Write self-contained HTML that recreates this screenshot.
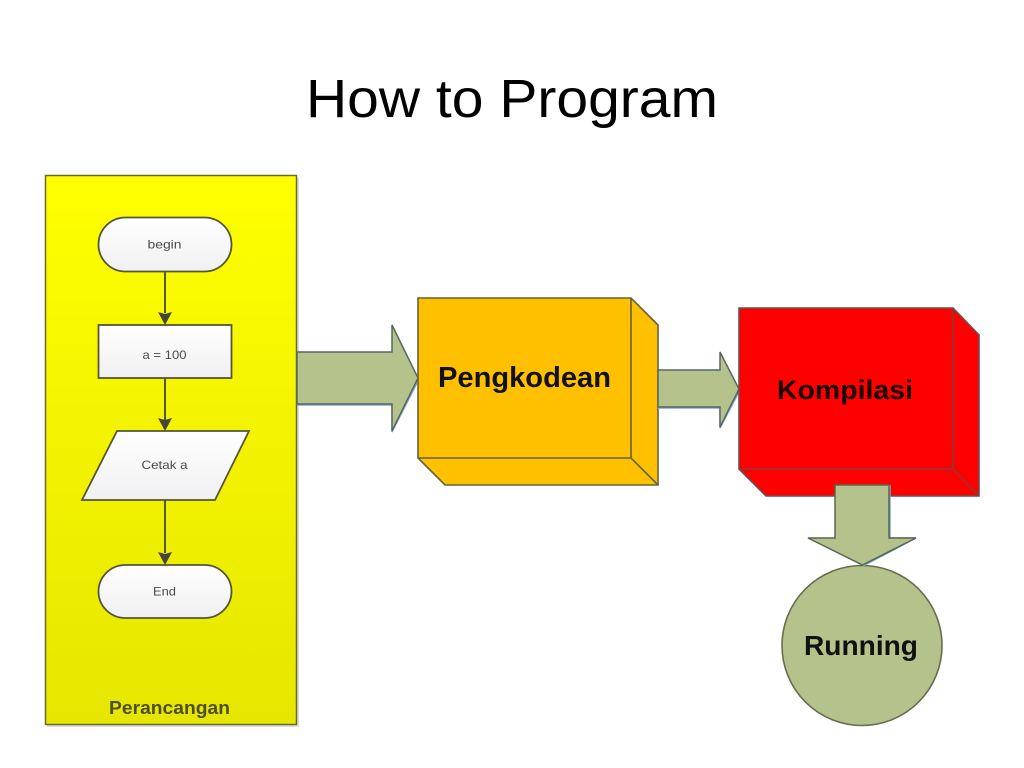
<!DOCTYPE html>
<html>
<head>
<meta charset="utf-8">
<style>
html,body{margin:0;padding:0;background:#fff;width:1024px;height:768px;overflow:hidden}
svg{display:block}
text{font-family:"Liberation Sans",sans-serif}
</style>
</head>
<body>
<svg width="1024" height="768" viewBox="0 0 1024 768" xmlns="http://www.w3.org/2000/svg">
<defs>
<linearGradient id="y" x1="0" y1="0" x2="0" y2="1"><stop offset="0" stop-color="#ffff00"/><stop offset="1" stop-color="#e6e600"/></linearGradient>
<linearGradient id="w" x1="0" y1="0" x2="0" y2="1"><stop offset="0" stop-color="#ffffff"/><stop offset="1" stop-color="#f0f0f2"/></linearGradient>
</defs>
<rect width="1024" height="768" fill="#fff"/>
<text x="306" y="117" font-size="54" fill="#000" textLength="412" lengthAdjust="spacingAndGlyphs">How to Program</text>

<!-- panel -->
<rect x="47" y="178" width="252" height="549" fill="#c8c8c8" opacity=".6"/>
<rect x="45.5" y="175.5" width="251" height="549" fill="url(#y)" stroke="#6a6a2c" stroke-width="1.5"/>

<!-- connectors -->
<g stroke="#45453a" stroke-width="1.8" fill="none">
<path d="M165 271V313M165 378V420M165 500V553"/>
</g>
<g fill="#45453a">
<path d="M158 312L165 325L172 312L165 314Z"/>
<path d="M158 418L165 431L172 418L165 420Z"/>
<path d="M158 552L165 565L172 552L165 554Z"/>
</g>

<!-- flow nodes -->
<g stroke="#55553a" stroke-width="1.8" fill="url(#w)">
<rect x="98.5" y="217.5" width="133" height="54" rx="27" ry="27"/>
<rect x="98.5" y="325" width="133" height="53"/>
<path d="M117 431H249L215 500H82Z"/>
<rect x="98.5" y="565" width="133" height="53" rx="27" ry="27"/>
</g>
<g font-size="12" fill="#4a4a4a" text-anchor="middle">
<text x="164.5" y="248.5" textLength="34" lengthAdjust="spacingAndGlyphs">begin</text>
<text x="164.5" y="359" textLength="44" lengthAdjust="spacingAndGlyphs">a = 100</text>
<text x="164.5" y="469" textLength="46" lengthAdjust="spacingAndGlyphs">Cetak a</text>
<text x="164.5" y="595.5" textLength="23" lengthAdjust="spacingAndGlyphs">End</text>
</g>
<text x="109" y="714" font-size="18" font-weight="700" fill="#4e4e2c" textLength="121" lengthAdjust="spacingAndGlyphs">Perancangan</text>

<!-- arrow 1 -->
<path d="M297 405H392V432L419 379" fill="none" stroke="#7fa8d8" stroke-width="1.5"/>
<path d="M297 352H392V325L418 378L392 431V404H297Z" fill="#b6c28c" stroke="#57675f" stroke-width="1.5"/>

<!-- box 1 -->
<path d="M418 298H631L658 325V485H445L418 458Z" fill="#ffc000" stroke="#64623f" stroke-width="1.6"/>
<path d="M631 298V458H418M631 458L658 485" fill="none" stroke="#64623f" stroke-width="1.6"/>
<text x="438" y="387" font-size="29" font-weight="700" fill="#111" textLength="173" lengthAdjust="spacingAndGlyphs">Pengkodean</text>

<!-- arrow 2 -->
<path d="M658 408H720V428L740 390" fill="none" stroke="#7fa8d8" stroke-width="1.5"/>
<path d="M658 370H720V352L739 389L720 427V407H658Z" fill="#b6c28c" stroke="#57675f" stroke-width="1.5"/>

<!-- box 2 -->
<path d="M739 308H953L979 335V496H766L739 469Z" fill="#ff0000" stroke="#6e4c4c" stroke-width="1.6"/>
<path d="M953 308V469H739M953 469L979 496" fill="none" stroke="#8a3a3a" stroke-width="1.6"/>
<text x="777" y="399" font-size="27" font-weight="700" fill="#1a0000" textLength="136" lengthAdjust="spacingAndGlyphs">Kompilasi</text>

<!-- circle -->
<circle cx="862" cy="645.5" r="80" fill="#b6c28c" stroke="#666d50" stroke-width="1.6"/>
<text x="804" y="655" font-size="28" font-weight="700" fill="#111" textLength="114" lengthAdjust="spacingAndGlyphs">Running</text>

<!-- arrow 3 -->
<path d="M890 485V538H916L863 566" fill="none" stroke="#7fa8d8" stroke-width="1.5"/>
<path d="M835 485H889V538H916L862.5 565L808 538H835Z" fill="#b6c28c" stroke="#57674f" stroke-width="1.5"/>
</svg>
</body>
</html>
